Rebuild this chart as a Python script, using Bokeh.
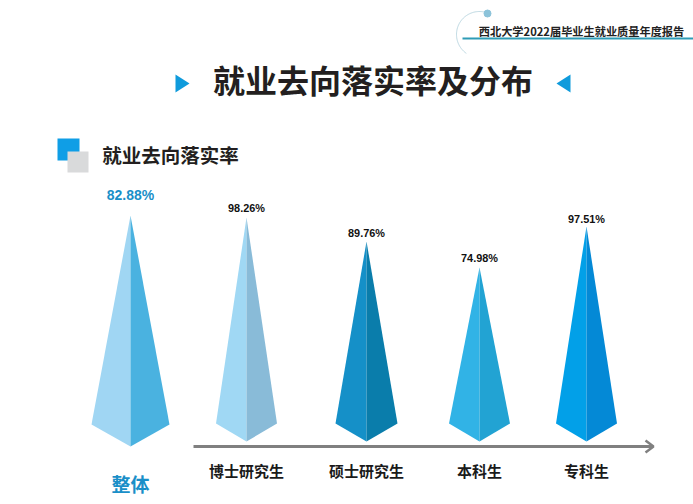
import numpy as np
from bokeh.plotting import figure
from bokeh.embed import file_html
from bokeh.resources import INLINE
from bokeh.core.properties import value

# ---- data ----
categories = ["整体", "博士研究生", "硕士研究生", "本科生", "专科生"]
rates = [82.88, 98.26, 89.76, 74.98, 97.51]
spike_heights = [231, 224, 200, 174, 215]   # drawn height of each spike

# ---- layout and style ----
W, H = 693, 504
CJK = value("Noto Sans CJK SC")
LATIN = value("Liberation Sans")
centers = [130, 246, 366, 479, 586]
half_w = [39, 30.5, 31, 30.5, 30.5]
tips = [446, 441, 441, 441, 441]
drops = [22, 18, 18, 18, 18]
rate_label_y = [194, 207, 232, 257, 218]
left_cols = ["#A0D6F3", "#A0D8F4", "#1590C8", "#31B3E6", "#02A0E8"]
right_cols = ["#4AB2E0", "#89BBD8", "#0A7DAB", "#22A3D3", "#0489D6"]
BLUE = "#1A8FC8"

p = figure(width=W, height=H, x_range=(0, W), y_range=(H, 0),
           output_backend="svg", toolbar_location=None,
           min_border=0, outline_line_color=None, background_fill_color="white")
p.axis.visible = False
p.grid.visible = False

# header
arc = np.radians(np.linspace(-70, -235, 80))
p.line(479 + 23 * np.cos(arc), 34 + 23 * np.sin(arc), line_color="#BCD8E2", line_width=1)
p.scatter([487], [13], size=7, color="#8CC3DA")
p.line([462, W], [38, 38], line_color="#2E9CB6", line_width=2)
p.text([581], [30.5], text=["西北大学2022届毕业生就业质量年度报告"], text_font=CJK,
       text_font_size="11.2px", text_font_style="bold", text_color="#222222",
       text_align="center", text_baseline="middle")

# title
p.text([372.5], [78], text=["就业去向落实率及分布"], text_font=CJK, text_font_size="32px",
       text_font_style="bold", text_color="#231F20", text_align="center", text_baseline="middle")
p.patch([175, 189, 175], [74, 83, 92], color="#0F9BDC", line_color=None)
p.patch([570, 556, 570], [74, 83, 92], color="#0F9BDC", line_color=None)

# section heading
p.quad(left=[57], right=[79], top=[138], bottom=[160], color="#0F9EE6", line_color=None)
p.quad(left=[67], right=[88], top=[151], bottom=[172], color="#D9DADB", line_color=None)
p.text([170], [154], text=["就业去向落实率"], text_font=CJK, text_font_size="19.5px",
       text_font_style="bold", text_color="#231F20", text_align="center", text_baseline="middle")

# spikes
for i, c in enumerate(categories):
    x, hw, tip, d, h = centers[i], half_w[i], tips[i], drops[i], spike_heights[i]
    apex = tip - h
    p.patch([x, x, x - hw], [apex, tip, tip - d], color=left_cols[i], line_color=None)
    p.patch([x, x, x + hw], [apex, tip, tip - d], color=right_cols[i], line_color=None)
    first = i == 0
    p.text([x], [rate_label_y[i]], text=[f"{rates[i]:.2f}%"], text_font=LATIN,
           text_font_size="14px" if first else "10.9px", text_font_style="bold",
           text_color=BLUE if first else "#111111",
           text_align="center", text_baseline="middle")
    p.text([x], [483 if first else 470], text=[c], text_font=CJK,
           text_font_size="19px" if first else "15px", text_font_style="bold",
           text_color=BLUE if first else "#1A1A1A",
           text_align="center", text_baseline="middle")

# arrow axis
p.line([193, 652], [446, 446], line_color="#808080", line_width=3)
p.line([645, 653, 645], [440, 446, 452], line_color="#808080", line_width=2.5)

open("out.html", "w").write(file_html(p, INLINE))
